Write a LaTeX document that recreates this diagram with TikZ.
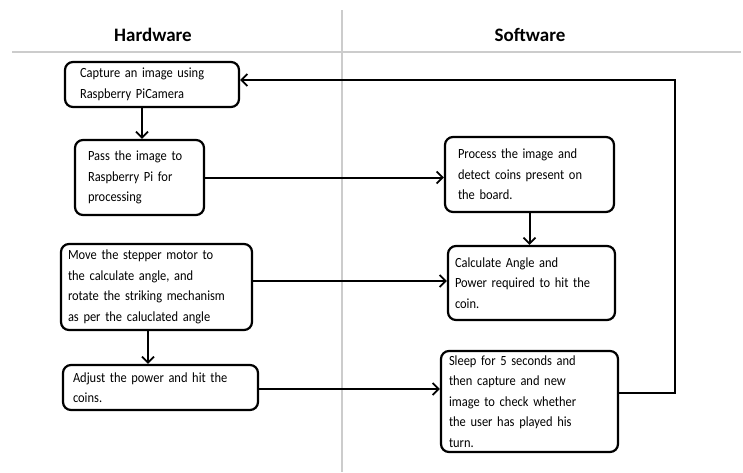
\documentclass[tikz,border=0pt]{standalone}
\usepackage{fontspec}
\setmainfont{Carlito}
\newfontfamily\bodyfont{Carlito}[FakeStretch=0.89]
\usetikzlibrary{arrows.meta}
\begin{document}
\begin{tikzpicture}[x=1pt,y=-1pt,
  box/.style={draw, line width=2.2pt, rounded corners=8pt, align=left,
    font=\bodyfont\fontsize{14}{20.5}\selectfont, inner ysep=0pt},
  arr/.style={line width=2pt, -{Straight Barb[length=6pt,width=12pt,line width=1.8pt]}},
  lane/.style={draw=black!20, line width=2.4pt},
  title/.style={font=\fontsize{19}{22}\selectfont\bfseries}]
\useasboundingbox[fill=white] (0,0) rectangle (743,472);
% swimlane lines
\coordinate (hl) at (12,52);
\coordinate (hr) at (741,52);
\coordinate (vt) at (342,10);
\coordinate (vb) at (342,472);
\draw[lane] (hl) -- (hr);
\draw[lane] (vt) -- (vb);
\node[title] (th) at (153,35) {Hardware};
\node[title] (ts) at (530,35) {Software};
% boxes
\node[box, text width=144pt, inner xsep=15pt, minimum height=45pt] (b1) at (152,84.5)
  {Capture an image using\\Raspberry PiCamera};
\node[box, text width=103pt, inner xsep=13pt, minimum height=75pt] (b2) at (139.5,177.5)
  {Pass the image to\\Raspberry Pi for\\processing};
\node[box, text width=143pt, inner xsep=13pt, minimum height=75pt] (b3) at (529.5,174.5)
  {Process the image and\\detect coins present on\\the board.};
\node[box, text width=153pt, inner xsep=7pt, minimum height=74pt] (b4) at (531.5,283)
  {Calculate Angle and\\Power required to hit the\\coin.};
\node[box, text width=177pt, inner xsep=7pt, minimum height=86pt] (b5) at (156.5,287)
  {Move the stepper motor to\\the calculate angle, and\\rotate the striking mechanism\\as per the caluclated angle};
\node[box, text width=175pt, inner xsep=10pt, minimum height=45pt] (b6) at (160.5,387.5)
  {Adjust the power and hit the\\coins.};
\node[box, text width=161pt, inner xsep=8pt, minimum height=101pt] (b7) at (529.5,401.5)
  {Sleep for 5 seconds and\\then capture and new\\image to check whether\\the user has played his\\turn.};
% helper coordinates
\coordinate (x12) at (142,0);
\coordinate (x56) at (148,0);
\coordinate (y54) at (0,281);
\coordinate (y67) at (0,389);
\coordinate (y7) at (0,393);
\coordinate (y1) at (0,80);
\coordinate (xr) at (675,0);
% connectors
\draw[arr] (x12 |- b1.south) -- (x12 |- b2.north);
\draw[arr] (b2.east) -- (b2.east -| b3.west);
\draw[arr] (b3.south) -- (b3.south |- b4.north);
\draw[arr] (b5.east |- y54) -- (b4.west |- y54);
\draw[arr] (x56 |- b5.south) -- (x56 |- b6.north);
\draw[arr] (b6.east |- y67) -- (b7.west |- y67);
\draw[arr, rounded corners=0pt] (b7.east |- y7) -- (xr |- y7) -- (xr |- y1) -- (b1.east |- y1);
\end{tikzpicture}
\end{document}
